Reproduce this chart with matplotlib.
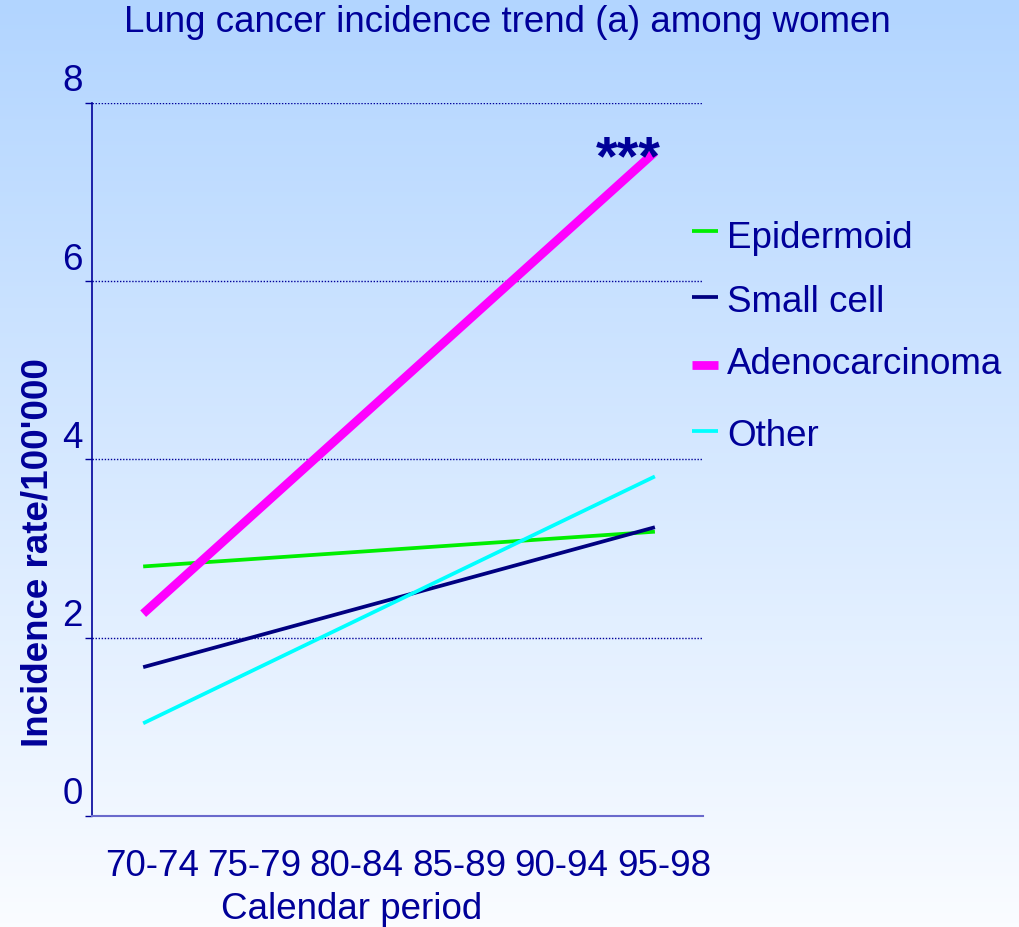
import numpy as np
import matplotlib
matplotlib.use("Agg")
import matplotlib.pyplot as plt
from matplotlib.transforms import ScaledTranslation
from matplotlib.lines import Line2D

periods = ["70-74", "75-79", "80-84", "85-89", "90-94", "95-98"]
series_names = ["Epidermoid", "Small cell", "Adenocarcinoma", "Other"]
# trend line endpoints (first and last period)
epidermoid = [2.80, 3.19]
small_cell = [1.67, 3.24]
adeno = [2.27, 7.45]
other = [1.04, 3.81]
yticks = [0, 2, 4, 6, 8]

NAVY = "#000099"
FS = 26.5
W, H = 1019, 927
plt.rcParams['font.family'] = ['Liberation Sans', 'DejaVu Sans']

fig = plt.figure(figsize=(W / 100, H / 100), dpi=100)

# gradient background
bg = fig.add_axes([0, 0, 1, 1], zorder=-10)
grad = np.linspace(0, 1, 256).reshape(-1, 1)
top = np.array([178, 213, 255]) / 255.0
bot = np.array([250, 252, 255]) / 255.0
img = top[None, None, :] * (1 - grad[:, :, None]) + bot[None, None, :] * grad[:, :, None]
bg.imshow(img, aspect='auto', extent=[0, 1, 0, 1])
bg.axis('off')

ax = fig.add_axes([92/W, 1-816/H, (703-92)/W, (816-103)/H])
ax.patch.set_alpha(0)

xi = [0, len(periods) - 1]
colors = ["#00ee00", "#000080", "#ff00ff", "#00ffff"]
widths = [2.7, 2.7, 6.3, 2.7]
data = [epidermoid, small_cell, adeno, other]
for name, vals, c, w in zip(series_names, data, colors, widths):
    ax.plot(xi, vals, color=c, lw=w, solid_capstyle='butt', label=name)

ax.set_xlim(-0.5, 5.47)
ax.set_ylim(0, 8)
ax.set_xticks(range(len(periods)))
ax.set_xticklabels(periods)
ax.set_yticks(yticks)
ax.set_yticklabels([str(v) for v in yticks])

for s in ['top', 'right']:
    ax.spines[s].set_visible(False)
ax.spines['left'].set_color(NAVY)
ax.spines['left'].set_linewidth(1.2)
ax.spines['bottom'].set_color("#6a6acc")
ax.spines['bottom'].set_linewidth(1.5)

ax.tick_params(axis='x', length=0, pad=24, labelsize=FS, labelcolor=NAVY)
ax.tick_params(axis='y', length=5, width=1, color=NAVY, pad=1.5, labelsize=FS, labelcolor=NAVY)
for lab in ax.get_yticklabels():
    lab.set_transform(lab.get_transform() + ScaledTranslation(0, 0.25, fig.dpi_scale_trans))
for lab in ax.get_xticklabels():
    lab.set_transform(lab.get_transform() + ScaledTranslation(0.09, 0, fig.dpi_scale_trans))

for v in yticks[1:]:
    ax.axhline(v, color=NAVY, lw=1.0, ls=(0, (1, 1.2)), zorder=0)

ax.set_ylabel("Incidence rate/100'000", fontsize=FS, fontweight='bold', color=NAVY)
ax.yaxis.set_label_coords(-0.06, 0.37)
ax.set_xlabel("Calendar period", fontsize=FS, color=NAVY)
ax.xaxis.set_label_coords(0.4255, -0.107)

fig.text(0.4975, 1 - 22/H, "Lung cancer incidence trend (a) among women", ha='center', va='center',
         fontsize=FS, color=NAVY)

ax.text(5, 7.45, "***", ha='right', va='center', fontsize=40, fontweight='bold', color=NAVY,
        transform=ax.transData + ScaledTranslation(0.06, -0.08, fig.dpi_scale_trans))

# manual legend
text_y = [238, 302, 365, 437]
handle_y = [231, 297, 365, 431]
for name, c, w, ty, hy in zip(series_names, colors, widths, text_y, handle_y):
    fig.add_artist(Line2D([692/W, 718/W], [1 - hy/H, 1 - hy/H], color=c, lw=w,
                          solid_capstyle='butt', transform=fig.transFigure))
    fig.text(727/W, 1 - ty/H, name, ha='left', va='center', fontsize=FS, color=NAVY)

fig.savefig("out.png", dpi=100)
